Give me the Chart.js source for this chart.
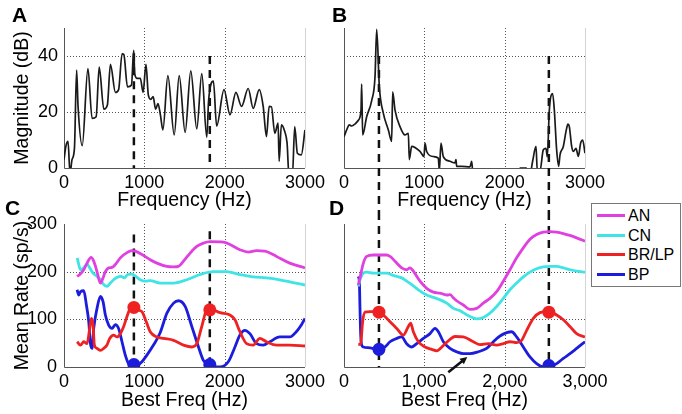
<!DOCTYPE html>
<html><head><meta charset="utf-8">
<script src="https://cdn.jsdelivr.net/npm/chart.js@4/dist/chart.umd.min.js"></script>
<style>
html,body{margin:0;padding:0;background:#fff;}
#wrap{position:relative;width:682px;height:414px;background:#fff;overflow:hidden;font-family:"Liberation Sans",Arial,sans-serif;}
canvas{position:absolute;}
.lett{position:absolute;font-weight:bold;font-size:21px;line-height:21px;color:#000;}
#legend{position:absolute;left:591px;top:203px;width:88px;height:82px;border:1px solid #777;background:#fff;z-index:5;}
.li{position:absolute;left:0;height:19px;font-size:16px;line-height:19px;}
.li span.ln{position:absolute;left:5px;top:8px;width:28px;height:3px;}
.li span.tx{position:absolute;left:36px;top:0;white-space:nowrap;}
</style></head>
<body><div id="wrap">
<canvas id="cA" width="330" height="212" style="left:0;top:0"></canvas>
<canvas id="cB" width="280" height="212" style="left:330px;top:0"></canvas>
<canvas id="cC" width="330" height="202" style="left:0;top:212px"></canvas>
<canvas id="cD" width="280" height="202" style="left:330px;top:212px"></canvas>
<div class="lett" style="left:12px;top:4px">A</div>
<div class="lett" style="left:332px;top:4px">B</div>
<div class="lett" style="left:5px;top:197px">C</div>
<div class="lett" style="left:329px;top:197px">D</div>
<div id="legend"></div>
</div>
<script>
// ---------- DATA ----------
const freqTicks = [0, 1000, 2000, 3000];
const freqLabels = ['0', '1000', '2000', '3000'];
const freqLabelsD = ['0', '1,000', '2,000', '3,000'];
const magTicks = [0, 20, 40];
const magLabels = ['0', '20', '40'];
const rateTicks = [0, 100, 200, 300];
const rateLabels = ['0', '100', '200', '300'];

// Panel A spectrum [Hz, dB]
const specA = [[0,3],[25,8],[50,9.5],[75,-2],[100,3],[130,7],[157,35],[175,22],[227,8],[298,35.5],[350,17.7],[400,18.3],[438,36],[496,21],[540,22.5],[578,37],[640,27],[680,28],[723,40.8],[745,40.5],[790,29],[840,29.6],[868,42],[880,33.7],[910,32],[950,32],[985,27],[1020,37],[1050,26],[1080,24.5],[1110,25.5],[1140,21],[1170,23],[1200,19],[1231,13.6],[1293,33],[1372,11.8],[1434,33],[1508,12.7],[1578,34.7],[1653,14],[1715,33.7],[1777,11],[1800,24],[1860,31],[1900,15],[1992,28],[2066,19],[2140,27],[2210,22],[2293,28.4],[2355,21.3],[2430,28],[2480,21.9],[2520,11.2],[2554,22],[2582,21.9],[2624,12.4],[2665,16],[2678,2.4],[2706,15.4],[2748,13],[2777,8.9],[2801,-3],[2843,-3],[2872,14.8],[2905,5.3],[2954,4.7],[3000,13.6]];
// Panel B spectrum [Hz, dB]
const specB = [[0,11.2],[33,13.6],[66,15.4],[95,15],[137,15.7],[178,17],[212,20.7],[220,30],[232,11.8],[282,18.3],[344,24],[386,32.5],[407,49.5],[440,29],[490,19.5],[552,13.6],[593,9.5],[606,27.2],[635,20.7],[697,14.8],[759,11.8],[801,12.4],[813,3],[842,7.7],[946,5.9],[996,4.1],[1008,8.9],[1029,5.9],[1112,4.1],[1174,3.5],[1187,-1],[1207,8.9],[1236,4.1],[1319,2.4],[1382,1.8],[1394,3],[1402,0.6],[1465,0.6],[1568,0.4],[1589,2.4],[1601,-1],[1700,-10],[2150,-10],[2190,0],[2270,0],[2300,-5],[2348,2.4],[2390,7.7],[2406,-1],[2440,-1],[2481,6.5],[2514,7],[2531,4],[2556,20.7],[2597,26.6],[2618,20.7],[2647,6.5],[2672,0.6],[2689,4.7],[2730,7.7],[2763,13],[2788,15.7],[2805,14.8],[2834,7.7],[2855,5.9],[2888,7],[2917,4.1],[2946,8.9],[2971,10],[3000,5.3]];

// Panel C rates [best freq Hz, sp/s]
const anC = [[163,190],[196,194],[246,204],[287,218],[337,230],[370,222],[411,200],[453,176],[486,187],[515,200],[556,208],[598,209],[639,215],[701,229],[784,240],[846,244],[887,243],[970,236],[1073,225],[1156,218],[1280,211],[1364,210],[1425,211],[1488,222],[1570,239],[1653,253],[1735,260],[1818,263],[1983,262],[2066,257],[2190,246],[2293,241],[2397,244],[2500,243],[2645,232],[2810,218],[3000,208]];
const cnC = [[165,229],[184,215],[205,204],[246,208],[287,216],[320,208],[362,197],[411,190],[453,183],[494,173],[535,169],[577,176],[618,183],[660,188],[710,190],[751,187],[792,194],[846,195],[887,191],[949,183],[1011,180],[1073,181],[1198,176],[1364,176],[1529,183],[1694,194],[1860,200],[2025,200],[2190,194],[2355,189],[2520,187],[2686,183],[2851,177],[3000,172]];
const brC = [[163,53],[205,46],[246,53],[287,49],[320,81],[341,102],[362,88],[378,46],[411,39],[453,35],[494,39],[535,46],[569,60],[618,67],[660,63],[701,70],[743,85],[784,106],[825,123],[867,127],[916,120],[970,116],[1024,95],[1073,74],[1156,63],[1240,60],[1364,56],[1488,46],[1591,42],[1653,49],[1715,85],[1777,120],[1818,122],[1942,114],[2066,109],[2128,99],[2190,74],[2273,49],[2355,46],[2438,60],[2520,53],[2645,46],[2810,46],[3000,44]];
const bpC = [[163,162],[184,151],[205,158],[246,160],[279,130],[308,95],[329,49],[349,39],[370,81],[411,123],[453,148],[486,137],[515,109],[556,88],[598,81],[639,89],[680,81],[722,53],[763,25],[804,7],[867,0],[916,4],[970,11],[1032,25],[1114,46],[1197,72],[1281,113],[1364,134],[1425,139],[1508,127],[1591,85],[1674,42],[1735,14],[1818,2],[1942,0],[2045,11],[2128,42],[2190,67],[2252,77],[2314,70],[2397,49],[2479,46],[2562,53],[2686,63],[2810,63],[2892,74],[2954,88],[3000,102]];
// Panel D rates
const anD = [[178,172],[199,187],[241,218],[282,232],[365,235],[531,235],[573,232],[635,222],[718,208],[780,204],[822,208],[863,201],[946,180],[1029,165],[1112,157],[1195,155],[1237,153],[1279,151],[1320,152],[1362,145],[1402,139],[1485,130],[1568,121],[1651,123],[1734,134],[1817,144],[1900,158],[1983,180],[2066,204],[2149,229],[2232,250],[2315,268],[2398,278],[2481,283],[2564,284],[2647,283],[2730,280],[2813,276],[2896,271],[3000,264]];
const cnD = [[178,169],[199,183],[241,197],[282,199],[365,197],[531,197],[614,192],[718,187],[780,180],[843,173],[926,162],[1029,151],[1112,146],[1195,141],[1279,134],[1362,123],[1445,118],[1485,114],[1568,106],[1651,101],[1734,104],[1817,113],[1900,127],[1983,144],[2066,162],[2149,176],[2232,189],[2315,199],[2398,206],[2481,210],[2564,211],[2647,211],[2730,208],[2813,204],[2896,201],[3000,199]];
const brD = [[178,47],[208,49],[232,95],[262,115],[324,116],[407,116],[490,109],[573,95],[656,81],[739,67],[801,85],[830,92],[863,74],[926,53],[1009,42],[1092,37],[1154,34],[1237,45],[1320,58],[1383,64],[1485,63],[1610,53],[1693,47],[1797,49],[1900,46],[1983,49],[2066,53],[2149,51],[2211,56],[2274,77],[2357,102],[2440,114],[2523,116],[2564,116],[2647,109],[2730,99],[2813,85],[2896,70],[3000,63]];
const bpD = [[178,190],[191,180],[199,123],[208,67],[220,46],[241,42],[324,40],[440,37],[510,42],[573,53],[656,60],[718,63],[780,49],[843,42],[905,49],[988,60],[1071,70],[1133,81],[1175,74],[1237,53],[1320,39],[1402,32],[1485,28],[1568,28],[1672,32],[1776,39],[1859,53],[1942,65],[2025,72],[2087,74],[2149,63],[2232,42],[2315,21],[2398,7],[2481,0],[2564,1],[2647,7],[2730,18],[2813,28],[2896,39],[3000,53]];

// formant markers
const markBrC = [[870,125],[1815,120]];
const markBpC = [[870,5],[1815,5]];
const markBrD = [[435,115],[2550,115]];
const markBpD = [[435,37],[2550,3]];
// dashed formant lines: frequency, top value
const dashFreqAC = [870, 1815];
const dashTopA = [41, 40];
const dashTopC = [278, 285];
const dashFreqBD = [435, 2550];
const dashTopB = [40, 40];
// arrow in D: [tailHz, tailRate, headHz, headRate]
const arrowD = [1298, -11, 1535, 21];

const seriesNames = ['AN', 'CN', 'BR/LP', 'BP'];
const seriesColors = ['#e040e0', '#40e4e4', '#ee2222', '#1c1cdc'];

// ---------- RENDER ----------
const FONT = '"Liberation Sans", Arial, sans-serif';
Chart.defaults.font.family = FONT;
Chart.defaults.color = '#000';

function seg(ctx, x1, y1, x2, y2) { ctx.beginPath(); ctx.moveTo(x1, y1); ctx.lineTo(x2, y2); ctx.stroke(); }

const panelPlugin = {
  id: 'panel',
  beforeDatasetsDraw(chart, args, o) {
    const ctx = chart.ctx, a = chart.chartArea, x = chart.scales.x, y = chart.scales.y;
    ctx.save();
    ctx.lineWidth = 1; ctx.strokeStyle = '#555'; ctx.setLineDash([1, 2]);
    o.gridX.forEach(v => { const p = Math.round(x.getPixelForValue(v)) + 0.5; seg(ctx, p, a.top, p, a.bottom); });
    o.gridY.forEach(v => { const p = Math.round(y.getPixelForValue(v)) + 0.5; seg(ctx, a.left, p, a.right, p); });
    ctx.setLineDash([]);
    ctx.strokeStyle = '#d4d4d4';
    seg(ctx, Math.round(a.right) + 0.5, a.top, Math.round(a.right) + 0.5, a.bottom);
    ctx.strokeStyle = '#555';
    const L = Math.round(a.left) + 0.5, B = Math.round(a.bottom) + 0.5;
    seg(ctx, L, a.top, L, B); seg(ctx, L, B, a.right, B);
    // dashed formant lines
    ctx.strokeStyle = '#111'; ctx.lineWidth = 2.5; ctx.setLineDash([8, 6]);
    o.dashX.forEach((v, i) => {
      const p = x.getPixelForValue(v);
      const top = o.dashTop ? y.getPixelForValue(o.dashTop[i]) : 0;
      const bot = o.toBottom ? chart.height : a.bottom;
      seg(ctx, p, top, p, bot);
    });
    ctx.restore();
  },
  afterDatasetsDraw(chart, args, o) {
    if (!o.arrow) return;
    const ctx = chart.ctx, x = chart.scales.x, y = chart.scales.y;
    const x1 = x.getPixelForValue(o.arrow[0]), y1 = y.getPixelForValue(o.arrow[1]);
    const x2 = x.getPixelForValue(o.arrow[2]), y2 = y.getPixelForValue(o.arrow[3]);
    const ang = Math.atan2(y2 - y1, x2 - x1), hl = 8;
    ctx.save();
    ctx.strokeStyle = '#111'; ctx.fillStyle = '#111'; ctx.lineWidth = 2.5;
    seg(ctx, x1, y1, x2 - Math.cos(ang) * hl * 0.8, y2 - Math.sin(ang) * hl * 0.8);
    ctx.beginPath();
    ctx.moveTo(x2, y2);
    ctx.lineTo(x2 - hl * Math.cos(ang - 0.45), y2 - hl * Math.sin(ang - 0.45));
    ctx.lineTo(x2 - hl * Math.cos(ang + 0.45), y2 - hl * Math.sin(ang + 0.45));
    ctx.closePath(); ctx.fill();
    ctx.restore();
  }
};

const pts = arr => arr.map(p => ({x: p[0], y: p[1]}));

function lineDs(arr, color, width) {
  return {data: pts(arr), borderColor: color, borderWidth: width, pointRadius: 0, fill: false,
          tension: 0.35, cubicInterpolationMode: 'monotone'};
}
function markDs(arr, color) {
  return {data: pts(arr), showLine: false, pointRadius: 6.5, pointBackgroundColor: color,
          pointBorderColor: color, borderColor: color, pointBorderWidth: 0};
}

function makeChart(id, datasets, c) {
  return new Chart(document.getElementById(id), {
    type: 'line',
    data: {datasets},
    options: {
      responsive: false, animation: false, devicePixelRatio: 1,
      layout: {padding: {left: 0, right: c.padR, top: c.padT, bottom: 0}},
      plugins: {legend: {display: false}, tooltip: {enabled: false}, panel: c.panel},
      scales: {
        x: {
          type: 'linear', min: 0, max: 3000,
          afterBuildTicks: s => { s.ticks = freqTicks.map(v => ({value: v})); },
          afterFit: s => { s.height = c.xH; s.paddingLeft = 0; s.paddingRight = 0; },
          ticks: {callback: (v, i) => c.xLabels[i], font: {size: 18}, padding: c.xPad, maxRotation: 0, autoSkip: false, color: '#000'},
          grid: {display: false, drawTicks: false}, border: {display: false},
          title: {display: true, text: c.xTitle, font: {size: 19.5}, padding: {top: 0, bottom: c.xTitlePad}, color: '#000'}
        },
        y: {
          type: 'linear', min: c.yMin, max: c.yMax,
          afterBuildTicks: s => { s.ticks = c.yTicks.map(v => ({value: v})); },
          afterFit: s => { s.width = c.yW; s.paddingTop = 0; s.paddingBottom = 0; },
          ticks: {display: !!c.yLabels, callback: (v, i) => c.yLabels ? c.yLabels[i] : '', font: {size: 18}, padding: c.yPad, color: '#000'},
          grid: {display: false, drawTicks: false}, border: {display: false},
          title: {display: !!c.yTitle, text: c.yTitle || '', font: {size: 19.5}, padding: {top: 11, bottom: 0}, color: '#000'}
        }
      }
    },
    plugins: [panelPlugin]
  });
}

makeChart('cA', [lineDs(specA, '#1a1a1a', 1.7)], {
  padR: 25, padT: 28, xH: 44, yW: 64, xPad: 4, yPad: 6, xTitlePad: 0,
  xLabels: freqLabels, xTitle: 'Frequency (Hz)', yMin: 0, yMax: 50, yTicks: magTicks, yLabels: magLabels,
  yTitle: 'Magnitude (dB)',
  panel: {gridX: [1000, 2000], gridY: [20, 40], dashX: dashFreqAC, dashTop: dashTopA, toBottom: false}
});
makeChart('cB', [lineDs(specB, '#1a1a1a', 1.7)], {
  padR: 25, padT: 28, xH: 44, yW: 14, xPad: 4, yPad: 6, xTitlePad: 0,
  xLabels: freqLabels, xTitle: 'Frequency (Hz)', yMin: 0, yMax: 50, yTicks: magTicks, yLabels: null,
  yTitle: null,
  panel: {gridX: [1000, 2000], gridY: [20, 40], dashX: dashFreqBD, dashTop: dashTopB, toBottom: true}
});
makeChart('cC', [
    lineDs(anC, seriesColors[0], 2.8), lineDs(cnC, seriesColors[1], 2.8),
    lineDs(brC, seriesColors[2], 2.8), lineDs(bpC, seriesColors[3], 2.8),
    markDs(markBrC, seriesColors[2]), markDs(markBpC, seriesColors[3])], {
  padR: 25, padT: 12, xH: 47, yW: 64, xPad: 4, yPad: 7, xTitlePad: 2,
  xLabels: freqLabels, xTitle: 'Best Freq (Hz)', yMin: 0, yMax: 300, yTicks: rateTicks, yLabels: rateLabels,
  yTitle: 'Mean Rate (sp/s)',
  panel: {gridX: [1000, 2000], gridY: [100, 200], dashX: dashFreqAC, dashTop: dashTopC, toBottom: false}
});
makeChart('cD', [
    lineDs(anD, seriesColors[0], 2.8), lineDs(cnD, seriesColors[1], 2.8),
    lineDs(brD, seriesColors[2], 2.8), lineDs(bpD, seriesColors[3], 2.8),
    markDs(markBrD, seriesColors[2]), markDs(markBpD, seriesColors[3])], {
  padR: 25, padT: 12, xH: 47, yW: 14, xPad: 4, yPad: 7, xTitlePad: 2,
  xLabels: freqLabelsD, xTitle: 'Best Freq (Hz)', yMin: 0, yMax: 300, yTicks: rateTicks, yLabels: null,
  yTitle: null,
  panel: {gridX: [1000, 2000], gridY: [100, 200], dashX: dashFreqBD, dashTop: null, toBottom: false, arrow: arrowD}
});

// legend
const lg = document.getElementById('legend');
seriesNames.forEach((n, i) => {
  const d = document.createElement('div');
  d.className = 'li';
  d.style.top = (2 + i * 19.5) + 'px';
  d.style.width = '88px';
  d.innerHTML = '<span class="ln" style="background:' + seriesColors[i] + '"></span><span class="tx">' + n + '</span>';
  lg.appendChild(d);
});
</script>
</body></html>
